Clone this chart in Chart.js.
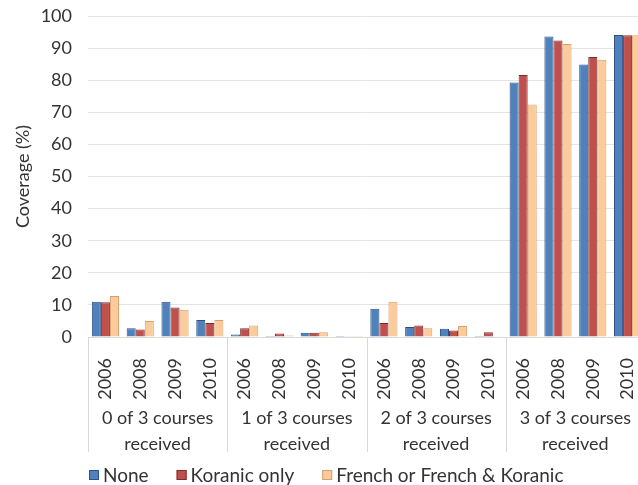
<!DOCTYPE html>
<html>
<head>
<meta charset="utf-8">
<script src="https://cdn.jsdelivr.net/npm/chart.js@4"></script>
<style>
  html, body { margin: 0; padding: 0; background: #fff; overflow: hidden; }
  #wrap { width: 660px; height: 485px; }
</style>
</head>
<body>
<div id="wrap"><canvas id="chart"></canvas></div>
<script>
// values
const years = ['2006', '2008', '2009', '2010'];
const groups = [['0 of 3 courses', 'received'], ['1 of 3 courses', 'received'], ['2 of 3 courses', 'received'], ['3 of 3 courses', 'received']];
const none    = [11.0, 2.7, 11.0, 5.3,   0.8, 0.3, 1.3, 0.3,   8.8, 3.1, 2.6, 0.3,   79.3, 93.6, 84.9, 94.1];
const koranic = [10.8, 2.3, 9.2, 4.4,    2.7, 1.1, 1.3, 0.1,   4.4, 3.6, 2.0, 1.5,   81.6, 92.4, 87.2, 94.0];
const french  = [12.8, 5.0, 8.5, 5.3,    3.6, 0.5, 1.5, 0.3,   11.0, 2.7, 3.4, 0.2,  72.4, 91.3, 86.4, 94.0];
const yTicks = [0, 10, 20, 30, 40, 50, 60, 70, 80, 90, 100];

const labels = [];
groups.forEach(() => years.forEach(y => labels.push(y)));

const FONT = 'Lato, sans-serif';
const TXT = '#333333';

// group labels, separators and legend under the year ticks
const groupAxis = {
  id: 'groupAxis',
  afterDraw(chart) {
    const x = chart.scales.x, ctx = chart.ctx, area = chart.chartArea;
    const n = years.length;
    const half = (x.getPixelForValue(1) - x.getPixelForValue(0)) / 2;
    ctx.save();
    ctx.strokeStyle = '#d9d9d9';
    ctx.lineWidth = 1;
    for (let g = 0; g <= groups.length; g++) {
      const px = g < groups.length ? x.getPixelForValue(g * n) - half : x.getPixelForValue(g * n - 1) + half;
      ctx.beginPath();
      ctx.moveTo(Math.round(px) + 0.5, area.bottom);
      ctx.lineTo(Math.round(px) + 0.5, area.bottom + 115);
      ctx.stroke();
    }
    ctx.fillStyle = TXT;
    ctx.font = '18px ' + FONT;
    ctx.textAlign = 'center';
    ctx.textBaseline = 'middle';
    groups.forEach((lines, g) => {
      const cx = (x.getPixelForValue(g * n) + x.getPixelForValue(g * n + n - 1)) / 2;
      lines.forEach((t, i) => ctx.fillText(t, cx, area.bottom + 81 + i * 26));
    });

    // legend
    ctx.font = '19px ' + FONT;
    ctx.textAlign = 'left';
    let lx = area.left + 1;
    const ly = area.bottom + 138;
    chart.data.datasets.forEach(ds => {
      ctx.fillStyle = ds.backgroundColor;
      ctx.fillRect(lx, ly - 5, 10, 10);
      ctx.strokeStyle = ds.borderColor;
      ctx.strokeRect(lx + 0.5, ly - 4.5, 9, 9);
      ctx.fillStyle = TXT;
      ctx.fillText(ds.label, lx + 14, ly + 1);
      lx += 14 + ctx.measureText(ds.label).width + 28;
    });
    ctx.restore();
  }
};

new Chart(document.getElementById('chart'), {
  type: 'bar',
  data: {
    labels,
    datasets: [
      { label: 'None', data: none, backgroundColor: '#4F81BD', borderColor: '#2E5182', borderWidth: 1 },
      { label: 'Koranic only', data: koranic, backgroundColor: '#C0504D', borderColor: '#7A2E2C', borderWidth: 1 },
      { label: 'French or French & Koranic', data: french, backgroundColor: '#FBCB9C', borderColor: '#D6A06A', borderWidth: 1 }
    ]
  },
  options: {
    responsive: true,
    maintainAspectRatio: false,
    animation: false,
    datasets: { bar: { categoryPercentage: 0.78, barPercentage: 1.0 } },
    layout: { padding: { top: 16, right: 15, left: 0, bottom: 33 } },
    plugins: {
      tooltip: { enabled: false },
      legend: { display: false }
    },
    scales: {
      x: {
        grid: { display: false, drawTicks: false },
        border: { color: '#d9d9d9' },
        ticks: {
          font: { family: FONT, size: 18 },
          color: TXT,
          autoSkip: false,
          minRotation: 90,
          maxRotation: 90,
          padding: 21
        },
        afterFit(s) { s.height = 115; s.paddingLeft = 0; s.paddingRight = 0; }
      },
      y: {
        min: 0,
        max: 100,
        afterBuildTicks(s) { s.ticks = yTicks.map(v => ({ value: v })); },
        grid: { color: '#e4e4e4', drawTicks: false },
        border: { display: false },
        ticks: { font: { family: FONT, size: 18 }, color: TXT, padding: 16 },
        title: { display: true, text: 'Coverage (%)', font: { family: FONT, size: 18 }, color: TXT, padding: { top: 12, bottom: 0 } },
        afterFit(s) { s.width = 88; s.paddingTop = 0; s.paddingBottom = 0; }
      }
    }
  },
  plugins: [groupAxis]
});
</script>
</body>
</html>
